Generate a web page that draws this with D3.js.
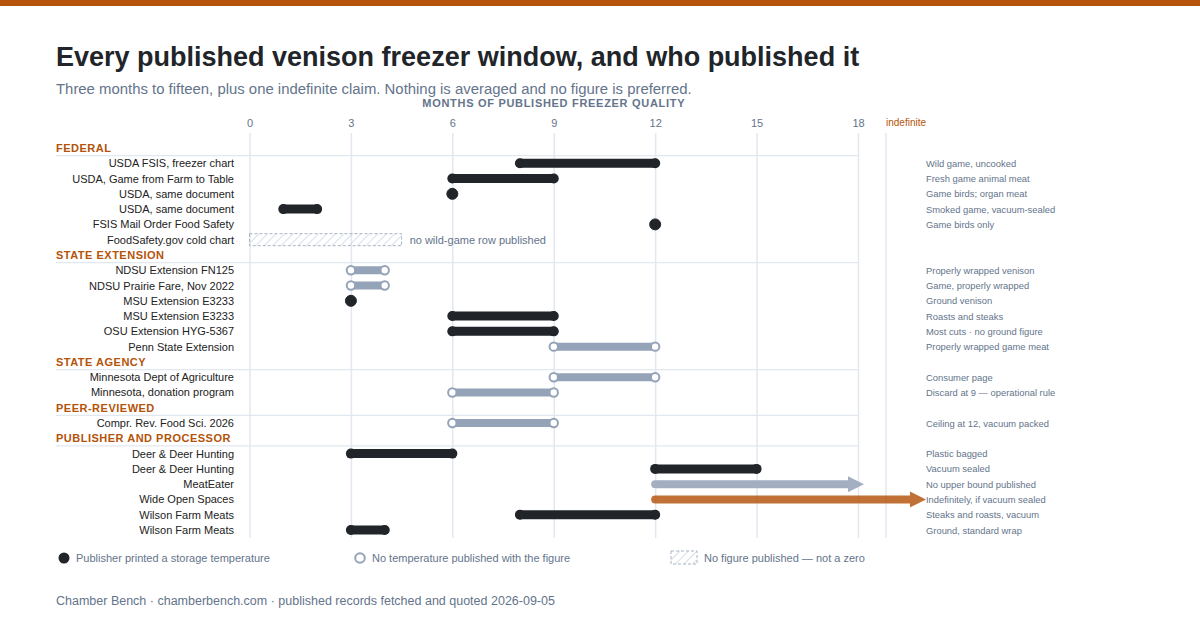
<!DOCTYPE html>
<html>
<head>
<meta charset="utf-8">
<script src="https://cdn.jsdelivr.net/npm/d3@7"></script>
<style>
  body { margin: 0; background: #fff; }
  svg { display: block; font-family: "Liberation Sans", Arial, sans-serif; }
</style>
</head>
<body>
<div id="chart"></div>
<script>
// data
var sections = ["FEDERAL", "STATE EXTENSION", "STATE AGENCY", "PEER-REVIEWED", "PUBLISHER AND PROCESSOR"];
var rowSection = [0,0,0,0,0,0, 1,1,1,1,1,1, 2,2, 3, 4,4,4,4,4,4];
var rowLabels = [
  "USDA FSIS, freezer chart", "USDA, Game from Farm to Table", "USDA, same document",
  "USDA, same document", "FSIS Mail Order Food Safety", "FoodSafety.gov cold chart",
  "NDSU Extension FN125", "NDSU Prairie Fare, Nov 2022", "MSU Extension E3233",
  "MSU Extension E3233", "OSU Extension HYG-5367", "Penn State Extension",
  "Minnesota Dept of Agriculture", "Minnesota, donation program",
  "Compr. Rev. Food Sci. 2026",
  "Deer & Deer Hunting", "Deer & Deer Hunting", "MeatEater", "Wide Open Spaces",
  "Wilson Farm Meats", "Wilson Farm Meats"
];
// low / high months; null high = no upper bound, "inf" = indefinite
var lowMonths  = [8, 6, 6, 1, 12, null, 3, 3, 3, 6, 6, 9, 9, 6, 6, 3, 12, 12, 12, 8, 3];
var highMonths = [12, 9, 6, 2, 12, null, 4, 4, 3, 9, 9, 12, 12, 9, 9, 6, 15, null, "inf", 12, 4];
// temp = storage temperature printed, notemp = no temperature, none = no figure
var kinds = ["temp","temp","temp","temp","temp","none",
  "notemp","notemp","temp","temp","temp","notemp",
  "notemp","notemp","notemp",
  "temp","temp","notemp","indef","temp","temp"];
var notes = [
  "Wild game, uncooked", "Fresh game animal meat", "Game birds; organ meat",
  "Smoked game, vacuum-sealed", "Game birds only", "",
  "Properly wrapped venison", "Game, properly wrapped", "Ground venison",
  "Roasts and steaks", "Most cuts \u00b7 no ground figure", "Properly wrapped game meat",
  "Consumer page", "Discard at 9 \u2014 operational rule",
  "Ceiling at 12, vacuum packed",
  "Plastic bagged", "Vacuum sealed", "No upper bound published",
  "Indefinitely, if vacuum sealed", "Steaks and roasts, vacuum", "Ground, standard wrap"
];
var tickMonths = [0, 3, 6, 9, 12, 15, 18];
var noFigureSpan = 4.5;

var W = 1200, H = 630;
var dark = "#212529", slate = "#64748b", grayBar = "#94a3b8", orange = "#b45309", grid = "#e2e8f0";

var svg = d3.select("#chart").append("svg").attr("width", W).attr("height", H);

var defs = svg.append("defs");
var pat = defs.append("pattern").attr("id", "hatch").attr("patternUnits", "userSpaceOnUse")
  .attr("width", 6).attr("height", 6).attr("patternTransform", "rotate(45)");
pat.append("line").attr("x1", 0).attr("y1", 0).attr("x2", 0).attr("y2", 6)
  .attr("stroke", "#cbd5e1").attr("stroke-width", 1.5);
defs.append("marker").attr("id", "arrGray").attr("viewBox", "0 0 10 10")
  .attr("refX", 0).attr("refY", 5).attr("markerWidth", 2).attr("markerHeight", 2)
  .attr("markerUnits", "strokeWidth").attr("orient", "auto")
  .append("path").attr("d", "M0,0L10,5L0,10Z").attr("fill", "#a3afc1");
defs.append("marker").attr("id", "arrOrange").attr("viewBox", "0 0 10 10")
  .attr("refX", 0).attr("refY", 5).attr("markerWidth", 2).attr("markerHeight", 2)
  .attr("markerUnits", "strokeWidth").attr("orient", "auto")
  .append("path").attr("d", "M0,0L10,5L0,10Z").attr("fill", orange);

// top band
svg.append("rect").attr("x", 0).attr("y", 0).attr("width", W).attr("height", 6).attr("fill", orange);

svg.append("text").attr("x", 56).attr("y", 66).attr("font-size", 27).attr("font-weight", "bold")
  .attr("fill", dark).text("Every published venison freezer window, and who published it");
svg.append("text").attr("x", 56).attr("y", 94).attr("font-size", 14.9).attr("fill", slate)
  .text("Three months to fifteen, plus one indefinite claim. Nothing is averaged and no figure is preferred.");

// scales
var x = d3.scaleLinear().domain([0, 18]).range([249.5, 858]);
var xIndef = 886;

// one slot per section header and per row
var slots = [];
sections.forEach(function(s, si) {
  slots.push({type: "head", i: si, key: "h" + si});
  rowSection.forEach(function(rs, ri) { if (rs === si) slots.push({type: "row", i: ri, key: "r" + ri}); });
});
var y = d3.scalePoint().domain(slots.map(function(d) { return d.key; })).range([148, 530]);
var step = y.step();

var gridTop = 133, gridBottom = 538;

svg.append("text").attr("x", x(9)).attr("y", 107).attr("text-anchor", "middle")
  .attr("font-size", 11).attr("font-weight", "bold").attr("letter-spacing", 0.7)
  .attr("fill", slate).text("MONTHS OF PUBLISHED FREEZER QUALITY");

// axis ticks + grid
var axis = svg.append("g").attr("transform", "translate(0," + gridTop + ")")
  .call(d3.axisTop(x).tickValues(tickMonths).tickSize(-(gridBottom - gridTop)).tickPadding(7));
axis.select(".domain").remove();
axis.selectAll(".tick line").attr("stroke", grid).attr("stroke-width", 1.5);
axis.selectAll(".tick text").attr("fill", slate).attr("font-size", 11)
  .attr("font-family", "Liberation Sans, Arial, sans-serif").attr("dy", "0.1em");

svg.append("line").attr("x1", xIndef).attr("x2", xIndef).attr("y1", gridTop).attr("y2", gridBottom)
  .attr("stroke", grid).attr("stroke-width", 1.5);
svg.append("text").attr("x", xIndef).attr("y", 126).attr("font-size", 10).attr("fill", orange)
  .text("indefinite");

// section headers + rules
slots.filter(function(d) { return d.type === "head"; }).forEach(function(d) {
  svg.append("text").attr("x", 56).attr("y", y(d.key) + 4).attr("font-size", 11)
    .attr("font-weight", "bold").attr("letter-spacing", 0.5).attr("fill", orange)
    .text(sections[d.i]);
  svg.append("line").attr("x1", 56).attr("x2", x(18)).attr("y1", y(d.key) + step / 2)
    .attr("y2", y(d.key) + step / 2).attr("stroke", grid).attr("stroke-width", 1.2);
});

var rows = slots.filter(function(d) { return d.type === "row"; });

// row labels and notes
svg.append("g").selectAll("text").data(rows).enter().append("text")
  .attr("x", 234).attr("y", function(d) { return y(d.key) + 4; })
  .attr("text-anchor", "end").attr("font-size", 11).attr("fill", "#222")
  .text(function(d) { return rowLabels[d.i]; });
svg.append("g").selectAll("text").data(rows).enter().append("text")
  .attr("x", 926).attr("y", function(d) { return y(d.key) + 3.5; })
  .attr("font-size", 9.4).attr("fill", slate)
  .text(function(d) { return notes[d.i]; });

var marks = svg.append("g");
rows.forEach(function(d) {
  var i = d.i, cy = y(d.key), k = kinds[i], lo = lowMonths[i], hi = highMonths[i];
  if (k === "none") {
    marks.append("rect").attr("x", x(0)).attr("y", cy - 6).attr("width", x(noFigureSpan) - x(0))
      .attr("height", 12).attr("fill", "url(#hatch)").attr("stroke", "#a8b4c4")
      .attr("stroke-dasharray", "3,2").attr("stroke-width", 1);
    marks.append("text").attr("x", x(noFigureSpan) + 8).attr("y", cy + 4)
      .attr("font-size", 11).attr("fill", slate).text("no wild-game row published");
  } else if (hi === null) {
    marks.append("line").attr("x1", x(lo)).attr("x2", x(18) - 10).attr("y1", cy).attr("y2", cy)
      .attr("stroke", "#a3afc1").attr("stroke-width", 8).attr("stroke-linecap", "round")
      .attr("marker-end", "url(#arrGray)");
  } else if (hi === "inf") {
    marks.append("g").attr("opacity", 0.82).append("line")
      .attr("x1", x(lo)).attr("x2", xIndef + 24).attr("y1", cy).attr("y2", cy)
      .attr("stroke", orange).attr("stroke-width", 8).attr("stroke-linecap", "round")
      .attr("marker-end", "url(#arrOrange)");
  } else if (lo === hi) {
    marks.append("circle").attr("cx", x(lo)).attr("cy", cy).attr("r", 5.5)
      .attr("fill", k === "temp" ? dark : "#fff").attr("stroke", k === "temp" ? dark : grayBar);
  } else if (k === "temp") {
    marks.append("line").attr("x1", x(lo)).attr("x2", x(hi)).attr("y1", cy).attr("y2", cy)
      .attr("stroke", dark).attr("stroke-width", 9).attr("stroke-linecap", "round");
    [lo, hi].forEach(function(v) {
      marks.append("circle").attr("cx", x(v)).attr("cy", cy).attr("r", 5).attr("fill", dark);
    });
  } else {
    marks.append("line").attr("x1", x(lo)).attr("x2", x(hi)).attr("y1", cy).attr("y2", cy)
      .attr("stroke", grayBar).attr("stroke-width", 8);
    [lo, hi].forEach(function(v) {
      marks.append("circle").attr("cx", x(v)).attr("cy", cy).attr("r", 4.2)
        .attr("fill", "#fff").attr("stroke", grayBar).attr("stroke-width", 2);
    });
  }
});

// legend
var lg = svg.append("g").attr("font-size", 11).attr("fill", slate);
lg.append("circle").attr("cx", 64).attr("cy", 558).attr("r", 5.5).attr("fill", dark);
lg.append("text").attr("x", 76).attr("y", 562).text("Publisher printed a storage temperature");
lg.append("circle").attr("cx", 360).attr("cy", 558).attr("r", 4.8).attr("fill", "#fff")
  .attr("stroke", grayBar).attr("stroke-width", 2);
lg.append("text").attr("x", 372).attr("y", 562).text("No temperature published with the figure");
lg.append("rect").attr("x", 671).attr("y", 551).attr("width", 26).attr("height", 13)
  .attr("fill", "url(#hatch)").attr("stroke", "#a8b4c4").attr("stroke-dasharray", "3,2");
lg.append("text").attr("x", 704).attr("y", 562).text("No figure published \u2014 not a zero");

svg.append("text").attr("x", 56).attr("y", 605).attr("font-size", 12.5).attr("fill", slate)
  .text("Chamber Bench \u00b7 chamberbench.com \u00b7 published records fetched and quoted 2026-09-05");
</script>
</body>
</html>
